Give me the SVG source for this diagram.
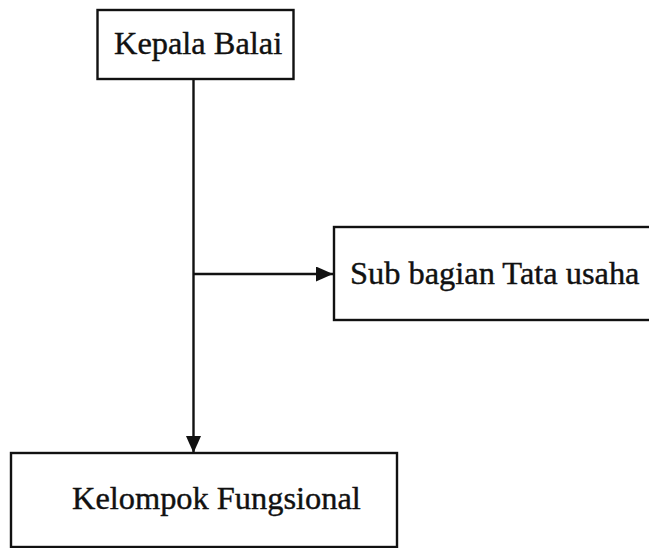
<svg xmlns="http://www.w3.org/2000/svg" width="649" height="548" viewBox="0 0 649 548">
<style>
.box{fill:#fff;stroke:#111;stroke-width:2.4}
.lbl{font-family:"Liberation Serif","Times New Roman",serif;font-size:32.4px;fill:#111;stroke:#111;stroke-width:0.4}
.conn{stroke:#111;stroke-width:2.4;fill:none}
</style>
<defs>
<marker id="arr" viewBox="0 0 17 15" refX="17" refY="7.5" markerWidth="17" markerHeight="15" markerUnits="userSpaceOnUse" orient="auto">
<path d="M0,0 L17,7.5 L0,15 Z" fill="#111"/>
</marker>
</defs>
<rect width="649" height="548" fill="#fff"/>
<g id="connectors">
<line class="conn" x1="193.5" y1="79" x2="193.5" y2="453" marker-end="url(#arr)"/>
<line class="conn" x1="193.5" y1="274" x2="333" y2="274" marker-end="url(#arr)"/>
</g>
<g id="kepala-balai">
<rect class="box" x="97.5" y="10" width="196" height="69"/>
<text class="lbl" x="114" y="54">Kepala Balai</text>
</g>
<g id="sub-bagian-tata-usaha">
<rect class="box" x="334" y="227" width="318" height="93"/>
<text class="lbl" x="350" y="284">Sub bagian Tata usaha</text>
</g>
<g id="kelompok-fungsional">
<rect class="box" x="11" y="453" width="386" height="94"/>
<text class="lbl" x="72" y="509">Kelompok Fungsional</text>
</g>
</svg>
